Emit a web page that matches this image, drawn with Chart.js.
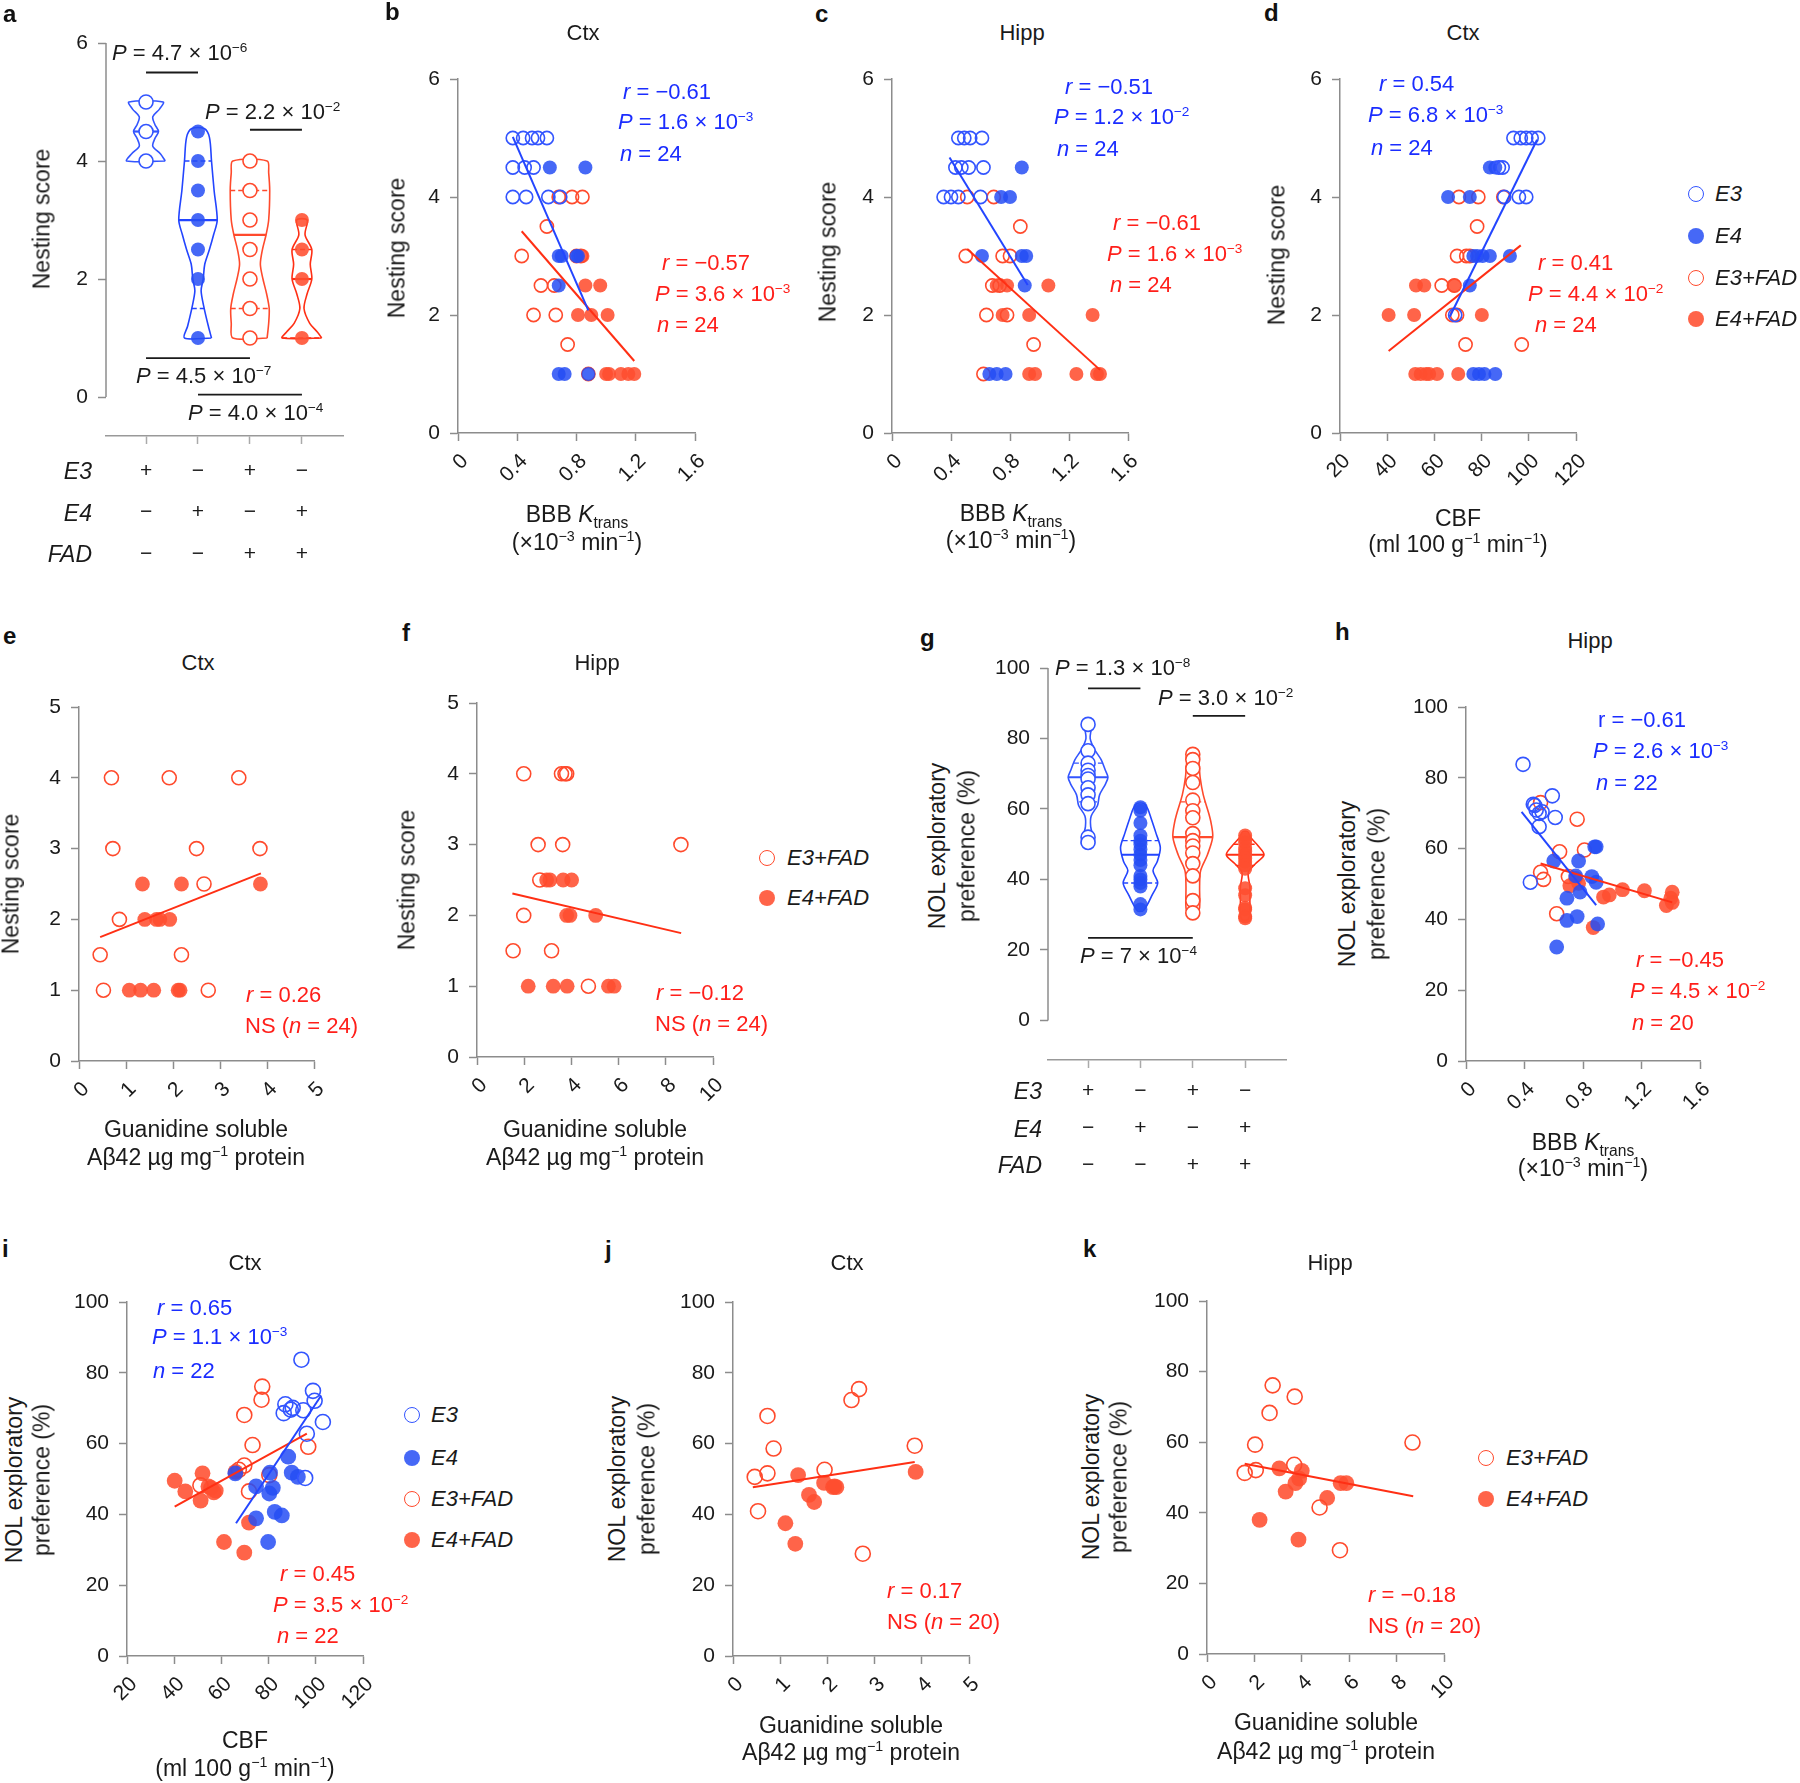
<!DOCTYPE html>
<html><head><meta charset="utf-8">
<script src="https://cdn.jsdelivr.net/npm/chart.js@4.4.1/dist/chart.umd.min.js"></script>
<style>
body{margin:0;background:#fff;}
#root{position:relative;width:1800px;height:1783px;overflow:hidden;background:#fff;font-family:"Liberation Sans",Arial,Helvetica,sans-serif;color:#1a1a1a;}
#root canvas{position:absolute;}
.t{position:absolute;white-space:nowrap;line-height:1;}
.t sup{font-size:62%;position:relative;top:-0.62em;vertical-align:baseline;line-height:0;}
.t sub{font-size:68%;position:relative;top:0.38em;vertical-align:baseline;line-height:0;}
.dot{position:absolute;width:16px;height:16px;border-radius:50%;box-sizing:border-box;}
</style></head>
<body><div id="root"></div>
<script>
// ---------------- DATA ----------------
// Panel a (nesting score violins)
const aRowE3 = ['+','\u2212','+','\u2212'];
const aRowE4 = ['\u2212','+','\u2212','+'];
const aRowFAD = ['\u2212','\u2212','+','+'];
const aE3 = [4, 4.5, 5];
const aE4 = [1, 2, 2.5, 3, 3.5, 4, 4.5];
const aE3FAD = [1, 1.5, 2, 2.5, 3, 3.5, 4];
const aE4FAD = [1, 2, 2.5, 3];
const aVioE3 = [[4,0.37],[4.12,0.28],[4.25,0.13],[4.38,0.17],[4.5,0.24],[4.62,0.17],[4.75,0.13],[4.88,0.26],[5,0.33]];
const aVioE4 = [[1,0.26],[1.2,0.2],[1.5,0.12],[1.8,0.06],[2,0.1],[2.25,0.13],[2.5,0.22],[2.75,0.3],[3,0.37],[3.5,0.31],[4,0.26],[4.4,0.22],[4.55,0.12]];
const aVioE3FAD = [[1,0.33],[1.25,0.36],[1.5,0.37],[1.75,0.32],[2,0.25],[2.25,0.2],[2.5,0.24],[2.75,0.31],[3,0.36],[3.5,0.38],[3.8,0.36],[4,0.33]];
const aVioE4FAD = [[1,0.38],[1.1,0.3],[1.25,0.15],[1.5,0.04],[1.75,0.1],[2,0.19],[2.25,0.16],[2.5,0.19],[2.75,0.06],[3,0.1]];
const aMedian = [[4.5,0.24],[3,0.37],[2.75,0.31],[2,0.19]];
const aQuart = [[], [[1.5,0.12],[4,0.26]], [[1.5,0.37],[3.5,0.38]], [[1,0.38],[2.5,0.19]]];
const aSig = [[1,2,5.5],[3,4,4.53],[1,3,0.66],[2,4,0.04]];
const tNest6 = [0,2,4,6];

// Panel b (Ctx, BBB Ktrans vs nesting)
const bE3 = [[0.37,5],[0.44,5],[0.50,5],[0.54,5],[0.60,5],[0.37,4.5],[0.45,4.5],[0.51,4.5],[0.37,4],[0.46,4],[0.61,4],[0.69,4]];
const bE4 = [[0.62,4.5],[0.86,4.5],[0.68,3],[0.70,3],[0.80,3],[0.81,3],[0.68,2.5],[0.68,1],[0.72,1],[0.88,1]];
const bE3FAD = [[0.68,4],[0.77,4],[0.84,4],[0.60,3.5],[0.43,3],[0.80,3],[0.83,3],[0.56,2.5],[0.65,2.5],[0.51,2],[0.66,2],[0.74,1.5],[0.88,1]];
const bE4FAD = [[0.84,3],[0.86,2.5],[0.96,2.5],[0.81,2],[0.90,2],[1.01,2],[1.0,1],[1.02,1],[1.10,1],[1.15,1],[1.19,1]];
const bFitBlue = [[0.37,5.02],[0.88,2.08]];
const bFitRed = [[0.43,3.42],[1.19,1.22]];

// Panel c (Hipp, BBB Ktrans vs nesting)
const cE3 = [[0.45,5],[0.49,5],[0.53,5],[0.61,5],[0.43,4.5],[0.47,4.5],[0.52,4.5],[0.62,4.5],[0.35,4],[0.40,4],[0.45,4],[0.60,4]];
const cE4 = [[0.88,4.5],[0.74,4],[0.80,4],[0.61,3],[0.88,3],[0.91,3],[0.90,2.5],[0.66,1],[0.71,1],[0.77,1]];
const cE3FAD = [[0.51,4],[0.69,4],[0.87,3.5],[0.50,3],[0.75,3],[0.80,3],[0.68,2.5],[0.73,2.5],[0.64,2],[0.78,2],[0.96,1.5],[0.62,1]];
const cE4FAD = [[0.71,2.5],[0.78,2.5],[1.06,2.5],[0.75,2],[0.93,2],[1.36,2],[0.93,1],[0.97,1],[1.25,1],[1.39,1],[1.41,1]];
const cFitBlue = [[0.39,4.67],[0.92,2.51]];
const cFitRed = [[0.51,3.12],[1.41,1.07]];

// Panel d (Ctx, CBF vs nesting)
const dE3 = [[93.5,5],[96.6,5],[98.9,5],[101.2,5],[104,5],[87.3,4.5],[88.9,4.5],[89.6,4],[95.8,4],[98.9,4],[68.8,2]];
const dE4 = [[83.5,4.5],[85.8,4.5],[65.8,4],[75,4],[76.5,3],[78.1,3],[80.4,3],[83.5,3],[92,3],[75,2.5],[76.5,1],[78.9,1],[81.2,1],[85.8,1]];
const dE3FAD = [[70.4,4],[78.6,4],[89.2,4],[78.1,3.5],[69.6,3],[73.5,3],[75,3],[63.1,2.5],[68.5,2.5],[67.6,2],[69.6,2],[73.2,1.5],[97,1.5]];
const dE4FAD = [[52.2,2.5],[55.7,2.5],[68.1,2.5],[40.6,2],[51.4,2],[80.1,2],[51.9,1],[54.2,1],[56.5,1],[57.8,1],[61.1,1],[70.1,1]];
const dFitBlue = [[66.5,1.97],[103.5,4.97]];
const dFitRed = [[40.6,1.39],[96.6,3.18]];

// Panel e (Ctx, Abeta42 vs nesting)
const eE3FAD = [[0.69,4],[1.92,4],[3.40,4],[0.72,3],[2.50,3],[3.85,3],[2.66,2.5],[0.86,2],[0.45,1.5],[2.18,1.5],[0.52,1],[2.75,1]];
const eE4FAD = [[1.35,2.5],[2.18,2.5],[3.86,2.5],[1.40,2],[1.65,2],[1.72,2],[1.93,2],[1.07,1],[1.31,1],[1.59,1],[2.11,1],[2.15,1]];
const eFit = [[0.45,1.75],[3.87,2.65]];

// Panel f (Hipp, Abeta42 vs nesting)
const fE3FAD = [[1.98,4],[3.58,4],[3.73,4],[3.80,4],[2.59,3],[3.63,3],[8.64,3],[2.66,2.5],[1.98,2],[1.53,1.5],[3.16,1.5],[4.72,1]];
const fE4FAD = [[2.95,2.5],[3.09,2.5],[3.65,2.5],[4.01,2.5],[3.80,2],[3.94,2],[5.03,2],[2.17,1],[3.23,1],[3.82,1],[5.57,1],[5.81,1]];
const fFit = [[1.50,2.31],[8.65,1.75]];

// Panel g (NOL violins)
const gE3 = [84, 76.5, 73, 71, 69.5, 68.5, 66, 64, 61.5, 52, 50.5];
const gE4 = [60.5, 59.5, 56, 52.5, 51, 50, 48.5, 47, 45.5, 44, 41, 40, 39, 38, 33, 31.5];
const gE3FAD = [75.5, 74, 71.5, 67.5, 62.5, 59.5, 57.5, 53, 51, 49.5, 47.5, 44.5, 41, 34, 30.5];
const gE4FAD = [52.5, 51.5, 50.5, 49, 48, 47, 46, 45, 44, 43, 37.5, 35.5, 32, 31.5, 29.5, 29];
const gVioE3 = [[50,0.12],[52,0.1],[55,0.05],[58,0.06],[61,0.18],[64,0.22],[67,0.33],[69,0.38],[71,0.33],[74,0.25],[77,0.12],[80,0.04],[83,0.06],[84.5,0.03]];
const gVioE4 = [[31,0.05],[32.5,0.12],[35.5,0.22],[39,0.33],[42.5,0.24],[45,0.32],[49,0.38],[53,0.3],[57.5,0.2],[60,0.14],[61.5,0.07]];
const gVioE3FAD = [[30,0.08],[32,0.13],[38,0.13],[42.5,0.15],[47,0.28],[52,0.38],[56,0.35],[59,0.3],[64,0.2],[69,0.14],[74,0.11],[76,0.06]];
const gVioE4FAD = [[28.5,0.05],[30,0.09],[34,0.09],[38,0.09],[42,0.06],[44.5,0.2],[47,0.36],[49.5,0.25],[52,0.1],[53.5,0.05]];
const gMedian = [[69,0.38],[47,0.37],[52,0.38],[47,0.36]];
const gQuart = [[[62,0.17],[73,0.27]], [[39,0.33],[51,0.34]], [[41,0.15],[62,0.24]], [[44,0.18],[50,0.22]]];
const gSig = [[1,2,94.2],[3,4,86.4],[1,3,23.4]];

// Panel h (Hipp, BBB Ktrans vs NOL)
const hE3 = [[0.39,83.8],[0.46,72.5],[0.48,70.9],[0.50,69.9],[0.50,66.2],[0.59,74.9],[0.61,68.8],[0.44,50.5],[0.47,72.2],[0.52,70.4]];
const hE4 = [[0.88,60.5],[0.89,60.5],[0.60,56.5],[0.77,56.5],[0.75,52.3],[0.86,52.1],[0.89,50.5],[0.69,46],[0.78,47.7],[0.69,39.7],[0.76,40.8],[0.90,38.7],[0.62,32.2]];
const hE3FAD = [[0.51,73],[0.76,68.3],[0.81,59.6],[0.64,59.1],[0.51,53.3],[0.53,51.3],[0.70,52.1],[0.62,41.6]];
const hE4FAD = [[0.71,49.5],[0.75,51.6],[0.94,46.3],[0.98,46.9],[1.07,48.4],[1.22,48.1],[1.37,43.9],[1.40,46],[1.41,47.7],[0.87,37.7],[1.41,44.8],[0.77,50.2]];
const hFitBlue = [[0.38,70.4],[0.89,44]];
const hFitRed = [[0.51,55.8],[1.41,44.8]];

// Panel i (Ctx, CBF vs NOL)
const iE3 = [[93.9,83.7],[98.8,74.9],[99.5,72.1],[103,66.1],[87.1,71.1],[89.4,69.6],[86.4,68.6],[94.7,69.4],[96.2,62.8],[95.5,50.3],[90.2,70.1]];
const iE4 = [[88.3,56.3],[65.9,51.6],[80.6,51.8],[89.8,51.8],[92.4,50.6],[74.7,47.9],[81.8,47.5],[80.3,45.9],[82.6,40.7],[85.6,39.7],[74.7,38.9],[79.8,32.2]];
const iE3FAD = [[77.3,76.1],[77,72.4],[69.7,68.1],[73.2,59.6],[96.8,59.1],[69.7,53.8],[67.4,52.6],[80.3,51.1],[51.1,48.2],[71.7,46.5]];
const iE4FAD = [[40.2,49.5],[44.7,46.5],[52,51.6],[51.2,43.9],[54.5,47.9],[55.6,47.5],[56.8,46.2],[57.6,46.7],[71.7,37.7],[61.1,32.2],[69.7,29.2],[66,52]];
const iFitBlue = [[66.2,37.5],[102.3,73.6]];
const iFitRed = [[40.2,42.2],[96.2,62.8]];

// Panel j (Ctx, Abeta42 vs NOL)
const jE3FAD = [[2.67,75.4],[2.51,72.3],[0.73,67.8],[0.86,58.6],[3.85,59.4],[1.94,52.6],[0.73,51.6],[0.46,50.6],[0.53,40.9],[2.75,28.9]];
const jE4FAD = [[1.38,51.1],[3.87,52],[1.93,48.9],[2.12,47.7],[2.19,47.7],[1.61,45.5],[1.72,43.5],[1.11,37.5],[1.32,31.7],[2.15,47.9]];
const jFit = [[0.42,47.7],[3.85,54.8]];

// Panel k (Hipp, Abeta42 vs NOL)
const kE3FAD = [[2.77,76.1],[3.70,72.9],[2.64,68.3],[2.03,59.3],[8.67,59.9],[3.68,53.6],[2.06,52.1],[1.59,51.3],[4.75,41.5],[5.61,29.4]];
const kE4FAD = [[3.05,52.6],[4.0,51.9],[3.89,49.7],[3.73,48.4],[5.64,48.4],[5.88,48.4],[3.32,46],[5.07,44.2],[2.22,38],[3.86,32.4]];
const kFit = [[1.59,53.9],[8.70,44.7]];

// Tick values
const tKtrans = [0,0.4,0.8,1.2,1.6];
const tCBF = [20,40,60,80,100,120];
const tAb5 = [0,1,2,3,4,5];
const tAb10 = [0,2,4,6,8,10];
const tNest5 = [0,1,2,3,4,5];
const tNOL = [0,20,40,60,80,100];
const tGroups = [1,2,3,4];

// ---------------- STYLE ----------------
const FONT = '"Liberation Sans", Arial, Helvetica, sans-serif';
Chart.defaults.font.family = FONT;
const AX = '#8c8c8c', TXT = '#1a1a1a';
const BLUE_T = '#1b2dff', RED_T = '#ff1f1a';
const BLUE_L = '#2345ff', RED_L = '#ff2f14';
const BLUE_O = '#3355ff', RED_O = '#ff4a2c';
const BLUE_F = 'rgba(38,78,245,0.85)', RED_F = 'rgba(255,78,48,0.88)';
const TICK = 21, TITLE = 23, ANN = 22;
const root = document.getElementById('root');

const P = a => a.map(([x,y]) => ({x,y}));
let RAD = 7;
function hollow(arr, col){ return {data:P(arr), pointRadius:RAD, pointHoverRadius:RAD, pointBorderWidth:1.6, pointBorderColor:col, pointBackgroundColor:'rgba(255,255,255,0)', clip:false, order:1}; }
function filled(arr, col){ return {data:P(arr), pointRadius:RAD+0.4, pointHoverRadius:RAD+0.4, pointBorderWidth:0, pointBorderColor:col, pointBackgroundColor:col, clip:false, order:1}; }
function fit(arr, col){ return {data:P(arr), showLine:true, borderColor:col, borderWidth:2, pointRadius:0, clip:false, order:0}; }

function xAxis(min, max, ticks, extra){
  const o = {type:'linear', min, max,
    afterBuildTicks: s => { s.ticks = ticks.map(v => ({value:v})); },
    afterFit: s => { s.height = 160; s.paddingLeft = 0; s.paddingRight = 0; },
    ticks:{color:TXT, font:{size:TICK}, minRotation:45, maxRotation:45, autoSkip:false, padding:8, labelOffset:7, callback: v => String(v)},
    grid:{display:true, drawOnChartArea:false, drawTicks:true, tickLength:8, tickColor:AX, tickWidth:1.5, color:AX},
    border:{display:true, color:AX, width:1.5}};
  return Object.assign(o, extra||{});
}
function yAxis(min, max, ticks, extra){
  const o = {type:'linear', min, max,
    afterBuildTicks: s => { s.ticks = ticks.map(v => ({value:v})); },
    afterFit: s => { s.width = 90; s.paddingTop = 0; s.paddingBottom = 0; },
    ticks:{color:TXT, font:{size:TICK}, padding:10, autoSkip:false, callback: v => String(v)},
    grid:{display:true, drawOnChartArea:false, drawTicks:true, tickLength:8, tickColor:AX, tickWidth:1.5, color:AX},
    border:{display:true, color:AX, width:1.5}};
  return Object.assign(o, extra||{});
}

const partialY = {
  id:'partialY',
  afterDraw(chart, args, opts){
    if (!opts || opts.top === undefined) return;
    const y = chart.scales.y, ctx = chart.ctx, x = chart.chartArea.left;
    ctx.save(); ctx.strokeStyle = AX; ctx.lineWidth = 1.5;
    ctx.beginPath(); ctx.moveTo(x, y.getPixelForValue(opts.top)); ctx.lineTo(x, y.getPixelForValue(opts.bottom)); ctx.stroke();
    ctx.restore();
  }
};

function panel(area, xs, ys, datasets, partial){
  const [l,t,r,b] = area.map(Math.round);
  const PL = 90, PT = 30, PR = 30, PB = 160;
  const cv = document.createElement('canvas');
  const W = (r-l)+PL+PR, H = (b-t)+PT+PB;
  cv.width = W; cv.height = H;
  cv.style.left = (l-PL)+'px'; cv.style.top = (t-PT)+'px';
  cv.style.width = W+'px'; cv.style.height = H+'px';
  root.appendChild(cv);
  new Chart(cv, {type:'scatter', data:{datasets},
    options:{responsive:false, animation:false, devicePixelRatio:1,
      layout:{padding:{left:0, top:PT, right:PR, bottom:0}},
      plugins:{legend:{display:false}, tooltip:{enabled:false}, partialY: partial || {}},
      scales:{x:xs, y:ys}},
    plugins:[partialY]});
}

function violinDatasets(profiles, meds, quarts, points, styles, sig){
  const ds = [];
  profiles.forEach((prof, i) => {
    const c = tGroups[i], st = styles[i];
    const right = prof.map(([y,w]) => ({x:c+w, y}));
    const left = prof.slice().reverse().map(([y,w]) => ({x:c-w, y}));
    ds.push({data:[...right, ...left, right[0]], showLine:true, borderColor:st.line, borderWidth:1.6, pointRadius:0, tension:0.3, clip:false, order:3});
    const [my, mw] = meds[i];
    ds.push({data:[{x:c-mw,y:my},{x:c+mw,y:my}], showLine:true, borderColor:st.line, borderWidth:2.2, pointRadius:0, clip:false, order:3});
    quarts[i].forEach(([qy,qw]) => ds.push({data:[{x:c-qw,y:qy},{x:c+qw,y:qy}], showLine:true, borderColor:st.line, borderWidth:1.4, borderDash:[5,3], pointRadius:0, clip:false, order:3}));
    ds.push({data:points[i].map(y => ({x:c, y})), pointRadius:7, pointHoverRadius:7,
      pointBackgroundColor: st.hollow ? '#ffffff' : st.fill, pointBorderColor: st.hollow ? st.line : st.fill,
      pointBorderWidth: st.hollow ? 1.6 : 0, clip:false, order:2});
  });
  sig.forEach(([x1,x2,y]) => ds.push({data:[{x:x1,y},{x:x2,y}], showLine:true, borderColor:'#1a1a1a', borderWidth:1.8, pointRadius:0, clip:false, order:0}));
  return ds;
}
const vStyles = [{line:BLUE_O, hollow:true}, {line:BLUE_L, fill:BLUE_F, hollow:false}, {line:RED_O, hollow:true}, {line:RED_L, fill:RED_F, hollow:false}];

function groupX(min, max, lh, pad){
  return xAxis(min, max, tGroups, {
    ticks:{color:TXT, font:{size:TICK, lineHeight:lh}, minRotation:0, maxRotation:0, autoSkip:false, padding:pad,
      callback:(v, i) => [aRowE3[i], aRowE4[i], aRowFAD[i]]},
    grid:{display:true, drawOnChartArea:false, drawTicks:true, tickLength:8, tickColor:'#aaaaaa', tickWidth:1.5, color:'#aaaaaa'},
    border:{display:true, color:'#999999', width:1.5}});
}

// ---------------- CHARTS ----------------
RAD = 6.6;
// a
panel([106,43,343,436], groupX(0.23, 4.79, 1.98, 6),
  yAxis(-0.66, 6, tNest6, {border:{display:false}}),
  violinDatasets([aVioE3,aVioE4,aVioE3FAD,aVioE4FAD], aMedian, aQuart, [aE3,aE4,aE3FAD,aE4FAD], vStyles, aSig),
  {top:6, bottom:0});
// b
panel([458,79,695,433], xAxis(0,1.6,tKtrans), yAxis(0,6,tNest6),
  [fit(bFitBlue,BLUE_L), fit(bFitRed,RED_L), hollow(bE3,BLUE_O), filled(bE4,BLUE_F), hollow(bE3FAD,RED_O), filled(bE4FAD,RED_F)]);
// c
panel([892,79,1128,433], xAxis(0,1.6,tKtrans), yAxis(0,6,tNest6),
  [fit(cFitBlue,BLUE_L), fit(cFitRed,RED_L), hollow(cE3,BLUE_O), filled(cE4,BLUE_F), hollow(cE3FAD,RED_O), filled(cE4FAD,RED_F)]);
// d
panel([1340,79,1576,433], xAxis(20,120,tCBF), yAxis(0,6,tNest6),
  [fit(dFitBlue,BLUE_L), fit(dFitRed,RED_L), hollow(dE3,BLUE_O), filled(dE4,BLUE_F), hollow(dE3FAD,RED_O), filled(dE4FAD,RED_F)]);
RAD = 7;
// e
panel([79,707,314,1061], xAxis(0,5,tAb5), yAxis(0,5,tNest5),
  [fit(eFit,RED_L), hollow(eE3FAD,RED_O), filled(eE4FAD,RED_F)]);
// f
panel([477,703,713,1057], xAxis(0,10,tAb10), yAxis(0,5,tNest5),
  [fit(fFit,RED_L), hollow(fE3FAD,RED_O), filled(fE4FAD,RED_F)]);
// g
panel([1048,668,1286,1060], groupX(0.235, 4.78, 1.77, 4.4),
  yAxis(-11.24, 100, tNOL, {border:{display:false}}),
  violinDatasets([gVioE3,gVioE4,gVioE3FAD,gVioE4FAD], gMedian, gQuart, [gE3,gE4,gE3FAD,gE4FAD], vStyles, gSig),
  {top:100, bottom:0});
// h
panel([1466,707,1700,1061], xAxis(0,1.6,tKtrans), yAxis(0,100,tNOL),
  [fit(hFitBlue,BLUE_L), fit(hFitRed,RED_L), hollow(hE3,BLUE_O), filled(hE4,BLUE_F), hollow(hE3FAD,RED_O), filled(hE4FAD,RED_F)]);
RAD = 7.5;
// i
panel([127,1302,363,1656], xAxis(20,120,tCBF), yAxis(0,100,tNOL),
  [fit(iFitBlue,BLUE_L), fit(iFitRed,RED_L), hollow(iE3,BLUE_O), filled(iE4,BLUE_F), hollow(iE3FAD,RED_O), filled(iE4FAD,RED_F)]);
// j
panel([733,1302,969,1656], xAxis(0,5,tAb5), yAxis(0,100,tNOL),
  [fit(jFit,RED_L), hollow(jE3FAD,RED_O), filled(jE4FAD,RED_F)]);
// k
panel([1207,1301,1444,1654], xAxis(0,10,tAb10), yAxis(0,100,tNOL),
  [fit(kFit,RED_L), hollow(kE3FAD,RED_O), filled(kE4FAD,RED_F)]);

// ---------------- TEXT ----------------
function T(html, x, y, o){
  o = o || {};
  const d = document.createElement('div'); d.className = 't'; d.innerHTML = html;
  d.style.left = x+'px'; d.style.top = y+'px';
  d.style.fontSize = (o.size||ANN)+'px';
  d.style.color = o.color || TXT;
  if (o.bold) d.style.fontWeight = 'bold';
  if (o.italic) d.style.fontStyle = 'italic';
  let tr = o.align === 'center' ? 'translate(-50%,-50%)' : o.align === 'right' ? 'translate(-100%,-50%)' : 'translate(0,-50%)';
  if (o.rot) tr = 'translate(-50%,-50%) rotate(-90deg)';
  d.style.transform = tr;
  root.appendChild(d);
}
function dot(x, y, col, isHollow){
  const d = document.createElement('div'); d.className = 'dot';
  d.style.left = (x-8)+'px'; d.style.top = (y-8)+'px';
  if (isHollow) d.style.border = '1.8px solid '+col; else d.style.background = col;
  root.appendChild(d);
}
const M = '\u2212';
const pv = (m, e) => '<i>P</i> = '+m+' \u00d7 10<sup>'+M+e+'</sup>';

// panel letters
[['a',3,14],['b',385,12],['c',815,14],['d',1264,13],['e',3,636],['f',402,633],['g',920,638],['h',1335,632],['i',2,1249],['j',605,1250],['k',1083,1249]]
  .forEach(([s,x,y]) => T(s, x, y, {bold:true, size:24, color:'#111'}));

// panel titles
[['Ctx',583,33],['Hipp',1022,33],['Ctx',1463,33],['Ctx',198,663],['Hipp',597,663],['Hipp',1590,641],['Ctx',245,1263],['Ctx',847,1263],['Hipp',1330,1263]]
  .forEach(([s,x,y]) => T(s, x, y, {align:'center', size:22}));

// y titles
[['Nesting score',42,219],['Nesting score',397,248],['Nesting score',828,252],['Nesting score',1277,255],['Nesting score',11,884],['Nesting score',407,880]]
  .forEach(([s,x,y]) => T(s, x, y, {rot:true, size:TITLE}));
[[937,967,846],[1347,1377,884],[14,42,1480],[617,647,1479],[1091,1119,1477]].forEach(([x1,x2,y]) => {
  T('NOL exploratory', x1, y, {rot:true, size:TITLE});
  T('preference (%)', x2, y, {rot:true, size:TITLE});
});

// x titles
const kt1 = 'BBB <i>K</i><sub>trans</sub>', kt2 = '(\u00d710<sup>'+M+'3</sup> min<sup>'+M+'1</sup>)';
const cb1 = 'CBF', cb2 = '(ml 100 g<sup>'+M+'1</sup> min<sup>'+M+'1</sup>)';
const ab1 = 'Guanidine soluble', ab2 = 'A\u03b242 \u00b5g mg<sup>'+M+'1</sup> protein';
[[kt1,kt2,577,514,542],[kt1,kt2,1011,513,540],[cb1,cb2,1458,518,544],[ab1,ab2,196,1129,1157],[ab1,ab2,595,1129,1157],
 [kt1,kt2,1583,1142,1168],[cb1,cb2,245,1740,1768],[ab1,ab2,851,1725,1752],[ab1,ab2,1326,1722,1751]]
  .forEach(([s1,s2,x,y1,y2]) => { T(s1, x, y1, {align:'center', size:TITLE}); T(s2, x, y2, {align:'center', size:TITLE}); });

// row labels (a, g)
[['E3',92,471],['E4',92,513],['FAD',92,554],['E3',1042,1091],['E4',1042,1129],['FAD',1042,1165]]
  .forEach(([s,x,y]) => T(s, x, y, {align:'right', italic:true, size:23}));

// P values a, g
[[pv('4.7','6'),112,53],[pv('2.2','2'),205,112],[pv('4.5','7'),136,376],[pv('4.0','4'),188,413],
 [pv('1.3','8'),1055,668],[pv('3.0','2'),1158,698],[pv('7','4'),1080,956]]
  .forEach(([s,x,y]) => T(s, x, y, {size:ANN}));

// correlation annotations
function stats(lines, col){ lines.forEach(([s,x,y]) => T(s, x, y, {size:ANN, color:col})); }
stats([['<i>r</i> = '+M+'0.61',623,92],[pv('1.6','3'),618,122],['<i>n</i> = 24',620,154]], BLUE_T);
stats([['<i>r</i> = '+M+'0.57',662,263],[pv('3.6','3'),655,294],['<i>n</i> = 24',657,325]], RED_T);
stats([['<i>r</i> = '+M+'0.51',1065,87],[pv('1.2','2'),1054,117],['<i>n</i> = 24',1057,149]], BLUE_T);
stats([['<i>r</i> = '+M+'0.61',1113,223],[pv('1.6','3'),1107,254],['<i>n</i> = 24',1110,285]], RED_T);
stats([['<i>r</i> = 0.54',1379,84],[pv('6.8','3'),1368,115],['<i>n</i> = 24',1371,148]], BLUE_T);
stats([['<i>r</i> = 0.41',1538,263],[pv('4.4','2'),1528,294],['<i>n</i> = 24',1535,325]], RED_T);
stats([['<i>r</i> = 0.26',246,995],['NS (<i>n</i> = 24)',245,1026]], RED_T);
stats([['<i>r</i> = '+M+'0.12',656,993],['NS (<i>n</i> = 24)',655,1024]], RED_T);
stats([['r = '+M+'0.61',1598,720],[pv('2.6','3'),1593,751],['<i>n</i> = 22',1596,783]], BLUE_T);
stats([['<i>r</i> = '+M+'0.45',1636,960],[pv('4.5','2'),1630,991],['<i>n</i> = 20',1632,1023]], RED_T);
stats([['<i>r</i> = 0.65',157,1308],[pv('1.1','3'),152,1337],['<i>n</i> = 22',153,1371]], BLUE_T);
stats([['<i>r</i> = 0.45',280,1574],[pv('3.5','2'),273,1605],['<i>n</i> = 22',277,1636]], RED_T);
stats([['<i>r</i> = 0.17',887,1591],['NS (<i>n</i> = 20)',887,1622]], RED_T);
stats([['<i>r</i> = '+M+'0.18',1368,1595],['NS (<i>n</i> = 20)',1368,1626]], RED_T);

// legends
const legAll = [['E3',BLUE_O,true],['E4',BLUE_F,false],['E3+FAD',RED_O,true],['E4+FAD',RED_F,false]];
const legFAD = [['E3+FAD',RED_O,true],['E4+FAD',RED_F,false]];
function legend(items, x, ys, tx){ items.forEach(([s,c,h],i) => { dot(x, ys[i], c, h); T(s, tx, ys[i], {italic:true, size:ANN}); }); }
legend(legAll, 1696, [194,236,278,319], 1715);
legend(legFAD, 767, [858,898], 787);
legend(legAll, 412, [1415,1458,1499,1540], 431);
legend(legFAD, 1486, [1458,1499], 1506);
</script>
</body></html>
